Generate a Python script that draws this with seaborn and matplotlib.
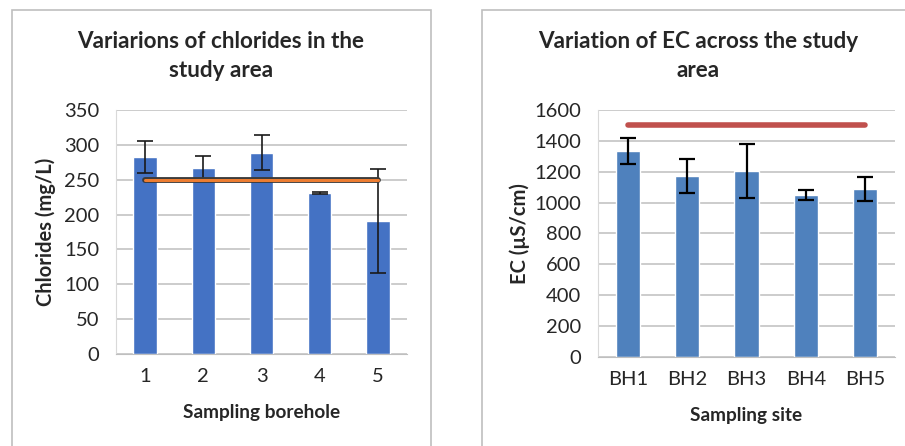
import matplotlib
matplotlib.use("Agg")
import matplotlib.pyplot as plt
import seaborn as sns
import pandas as pd
from matplotlib.patches import Rectangle

# data
boreholes = ["1", "2", "3", "4", "5"]
chlorides = [282, 267, 289, 231, 191]
chlorides_err = [23, 17, 25, 2, 75]
chloride_limit = 250

sites = ["BH1", "BH2", "BH3", "BH4", "BH5"]
ec = [1334, 1174, 1206, 1052, 1090]
ec_err = [83, 109, 173, 32, 78]
ec_limit = 1500

sns.set_style("white")
plt.rcParams["font.family"] = ["Lato", "DejaVu Sans"]

fig = plt.figure(figsize=(9.05, 4.46), dpi=100)
W, H = 905, 446

# panel borders
fig.patches.append(Rectangle((12 / W, -0.05), 419 / W, 1.05 - 10 / H, transform=fig.transFigure,
                             fill=False, edgecolor="#BFBFBF", lw=1.2))
fig.patches.append(Rectangle((482 / W, -0.05), 0.5, 1.05 - 10 / H, transform=fig.transFigure,
                             fill=False, edgecolor="#BFBFBF", lw=1.2))

ax1 = fig.add_axes([116 / W, 1 - 354 / H, 291 / W, 244 / H])
ax2 = fig.add_axes([598 / W, 1 - 357 / H, 297 / W, 247 / H])

df1 = pd.DataFrame({"borehole": boreholes, "cl": chlorides})
df2 = pd.DataFrame({"site": sites, "ec": ec})

sns.barplot(data=df1, x="borehole", y="cl", color="#4472C4", saturation=1, width=0.4, ax=ax1)
ax1.errorbar(range(len(boreholes)), chlorides, yerr=chlorides_err, fmt="none",
             ecolor="#1a1a1a", elinewidth=1.2, capsize=6, capthick=1.2, zorder=4)
ax1.plot([0, len(boreholes) - 1], [chloride_limit] * 2, color="#3a3a3a", lw=4.2,
         solid_capstyle="round", zorder=5)
ax1.plot([0, len(boreholes) - 1], [chloride_limit] * 2, color="#ED7D31", lw=2.2,
         solid_capstyle="round", zorder=6)
ax1.set_ylim(0, 350)
ax1.set_yticks(range(0, 351, 50))

sns.barplot(data=df2, x="site", y="ec", color="#4F81BD", saturation=1, width=0.41, ax=ax2)
ax2.errorbar(range(len(sites)), ec, yerr=ec_err, fmt="none",
             ecolor="black", elinewidth=1.6, capsize=6, capthick=1.6, zorder=4)
ax2.plot([0, len(sites) - 1], [ec_limit] * 2, color="#C0504D", lw=4,
         solid_capstyle="round", zorder=5)
ax2.set_ylim(0, 1600)
ax2.set_yticks(range(0, 1601, 200))

titles = ["Variarions of chlorides in the\nstudy area",
          "Variation of EC across the study\narea"]
title_x = [221, 698]
ylabels = ["Chlorides (mg/L)", "EC (µS/cm)"]
ylabel_pads = [6, 3]
xlabels = ["Sampling borehole", "Sampling site"]

for ax, t, tx, yl, yp, xl in zip([ax1, ax2], titles, title_x, ylabels, ylabel_pads, xlabels):
    ax.set_xlim(-0.5, 4.5)
    ax.yaxis.grid(True, color="#BFBFBF", lw=1.1)
    ax.set_axisbelow(True)
    for s in ["top", "right"]:
        ax.spines[s].set_visible(False)
    ax.spines["left"].set_color("#D9D9D9")
    ax.spines["bottom"].set_color("#BFBFBF")
    ax.tick_params(axis="both", length=0, labelsize=14.5, colors="#262626")
    ax.tick_params(axis="y", pad=12)
    ax.tick_params(axis="x", pad=10)
    fig.text(tx / W, 1 - 56 / H, t, ha="center", va="center", fontsize=16.2,
             fontweight="bold", linespacing=1.45)
    ax.set_ylabel(yl, fontsize=14.5, fontweight="bold", labelpad=yp)
    ax.set_xlabel(xl, fontsize=13.7, fontweight="bold", labelpad=14)

fig.savefig("out.png", dpi=100)
